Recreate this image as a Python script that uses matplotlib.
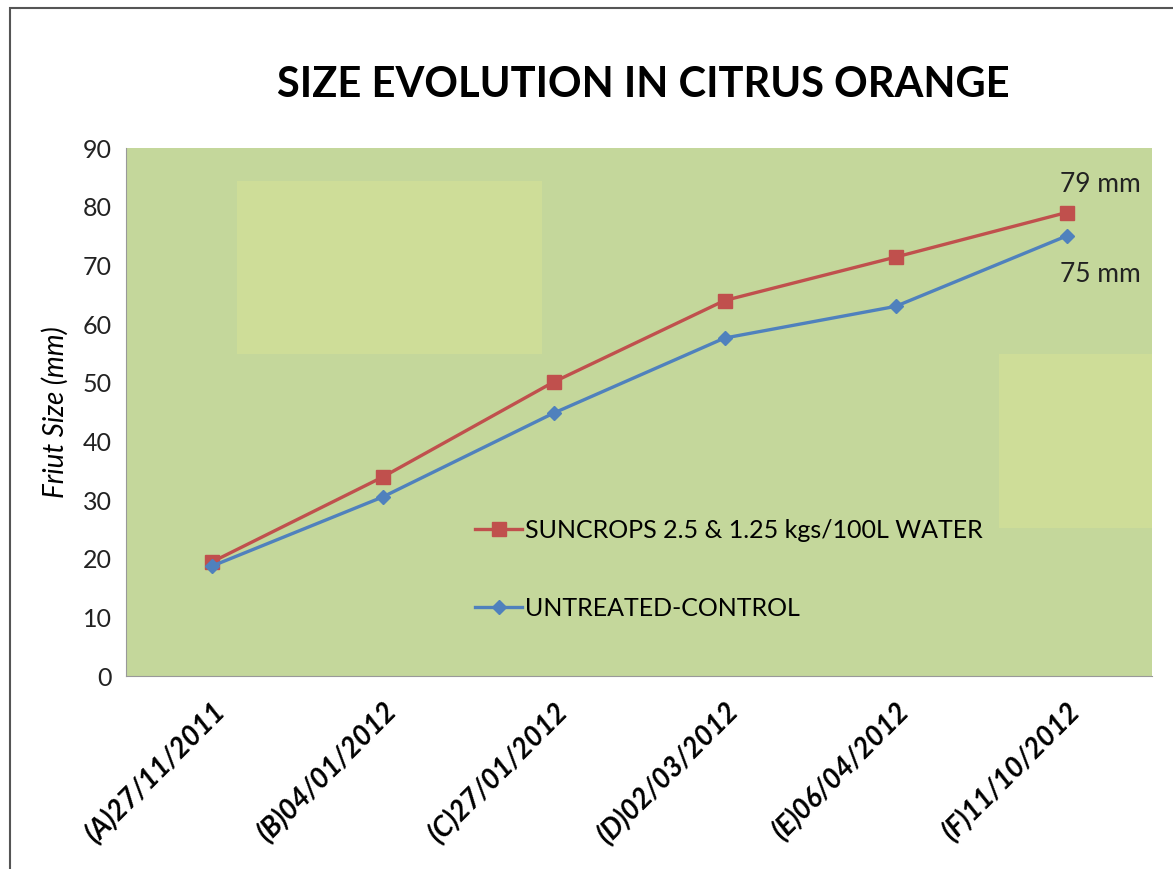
import matplotlib
matplotlib.use('Agg')
import matplotlib.pyplot as plt
from matplotlib.patches import Rectangle

plt.rcParams['font.family'] = ['Lato', 'DejaVu Sans']

dates = ['(A)27/11/2011', '(B)04/01/2012', '(C)27/01/2012',
         '(D)02/03/2012', '(E)06/04/2012', '(F)11/10/2012']
suncrops = [19.4, 33.9, 50.1, 64.0, 71.4, 79.0]
control = [18.7, 30.5, 44.8, 57.6, 63.0, 75.0]
yticks = [0, 10, 20, 30, 40, 50, 60, 70, 80, 90]

fig = plt.figure(figsize=(11.73, 8.69), dpi=100)
# outer frame like the pasted chart box
fig.patches.append(Rectangle((10 / 1173, -0.1), 1.2, 1.1 - 8 / 869, transform=fig.transFigure,
                             fill=False, edgecolor='#555555', linewidth=1.5))

ax = fig.add_axes([126 / 1173, 1 - 676 / 869, 1026 / 1173, 528 / 869])
ax.set_facecolor('#C4D79B')

# lighter blocks in the plot area
ax.add_patch(Rectangle((0.15, 54.9), 1.78, 29.4, facecolor='#CEDD98', edgecolor='none', zorder=0.5))
ax.add_patch(Rectangle((4.605, 25.2), 0.9, 29.7, facecolor='#CEDD98', edgecolor='none', zorder=0.5))

x = range(len(dates))
ax.plot(x, suncrops, color='#C0504D', marker='s', markersize=10, linewidth=2.4,
        label='SUNCROPS 2.5 & 1.25 kgs/100L WATER', zorder=3)
ax.plot(x, control, color='#4F81BD', marker='D', markersize=7.5, linewidth=2.4,
        label='UNTREATED-CONTROL', zorder=3)

ax.text(5.2, 79 + 4.8, '79 mm', fontsize=19, color='#222222', ha='center', va='center')
ax.text(5.2, 75 - 6.5, '75 mm', fontsize=19, color='#222222', ha='center', va='center')

ax.set_xlim(-0.5, 5.5)
ax.set_ylim(0, 90)
ax.set_yticks(yticks)
ax.set_yticklabels([str(v) for v in yticks], fontsize=18, color='#222222')
ax.set_xticks(list(x))
ax.set_xticklabels(dates, rotation=45, ha='right', rotation_mode='anchor',
                   fontsize=20, fontweight='bold', fontstyle='italic')
ax.tick_params(length=0, pad=10)
ax.tick_params(axis='x', pad=16)
for s in ax.spines.values():
    s.set_visible(False)
ax.spines['left'].set_visible(True)
ax.spines['left'].set_color('#999999')
ax.spines['bottom'].set_visible(True)
ax.spines['bottom'].set_color('#999999')

ax.set_ylabel('Friut Size (mm)', fontsize=20, fontstyle='italic', labelpad=10)

leg = ax.legend(loc='upper left', bbox_to_anchor=(0.318, 0.34), frameon=False,
                fontsize=18, handlelength=1.9, handletextpad=0.1, labelspacing=2.2)

fig.text(643 / 1173, 1 - 85 / 869, 'SIZE EVOLUTION IN CITRUS ORANGE', fontsize=30,
         fontweight='bold', ha='center', va='center')

fig.savefig('out.png', dpi=100)
